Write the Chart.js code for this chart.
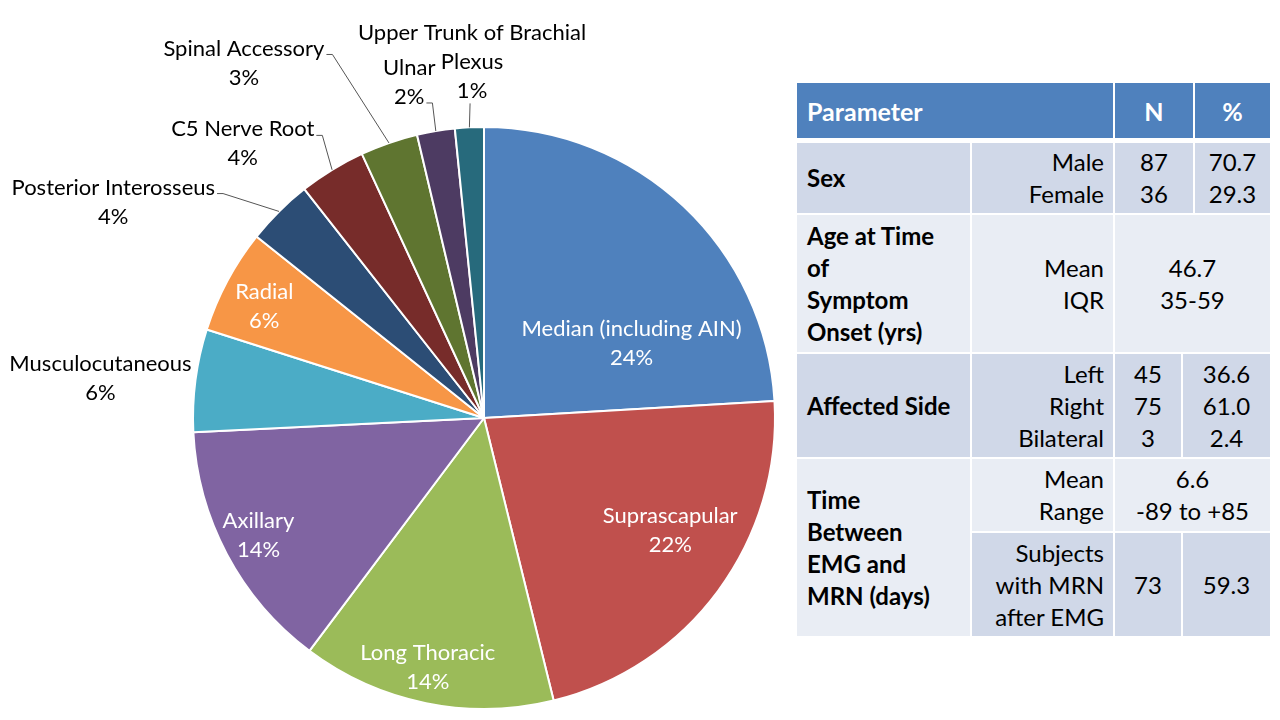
<!DOCTYPE html>
<html>
<head>
<meta charset="utf-8">
<title>Nerves involved</title>
<script src="https://cdn.jsdelivr.net/npm/chart.js@4.4.1/dist/chart.umd.min.js"></script>
<style>
  body { margin: 0; background: #fff; font-family: Lato, "Noto Sans", sans-serif; }
  .chart-container { position: absolute; left: 0; top: 0; width: 790px; height: 720px; }
  .cell { position: absolute; box-sizing: border-box; display: flex; align-items: center; font-size: 24px; line-height: 32px; color: #000; }
  .dark { background: #d0d8e8; }
  .light { background: #e9edf4; }
  .head { background: #4f81bd; color: #fff; font-weight: bold; font-size: 25px; }
  .left { justify-content: flex-start; padding-left: 10px; font-weight: bold; }
  .right { justify-content: flex-end; text-align: right; padding-right: 9px; }
  .mid { justify-content: center; text-align: center; }
</style>
</head>
<body>
<div class="chart-container">
  <canvas id="nerveChart"></canvas>
</div>

<div class="cell head left" style="left:797px;top:83px;width:316px;height:55px">Parameter</div>
<div class="cell head mid" style="left:1115px;top:83px;width:78px;height:55px">N</div>
<div class="cell head mid" style="left:1195px;top:83px;width:75px;height:55px">%</div>

<div class="cell dark left" style="left:797px;top:143px;width:173px;height:70px">Sex</div>
<div class="cell dark right" style="left:972px;top:143px;width:141px;height:70px">Male<br>Female</div>
<div class="cell dark mid" style="left:1115px;top:143px;width:78px;height:70px">87<br>36</div>
<div class="cell dark mid" style="left:1195px;top:143px;width:75px;height:70px">70.7<br>29.3</div>

<div class="cell light left" style="left:797px;top:215px;width:173px;height:137px">Age at Time<br>of<br>Symptom<br>Onset (yrs)</div>
<div class="cell light right" style="left:972px;top:215px;width:141px;height:137px">Mean<br>IQR</div>
<div class="cell light mid" style="left:1115px;top:215px;width:155px;height:137px">46.7<br>35-59</div>

<div class="cell dark left" style="left:797px;top:354px;width:173px;height:103px">Affected Side</div>
<div class="cell dark right" style="left:972px;top:354px;width:141px;height:103px">Left<br>Right<br>Bilateral</div>
<div class="cell dark mid" style="left:1115px;top:354px;width:66px;height:103px">45<br>75<br>3</div>
<div class="cell dark mid" style="left:1183px;top:354px;width:87px;height:103px">36.6<br>61.0<br>2.4</div>

<div class="cell light left" style="left:797px;top:459px;width:173px;height:177px">Time<br>Between<br>EMG and<br>MRN (days)</div>
<div class="cell light right" style="left:972px;top:459px;width:141px;height:72px">Mean<br>Range</div>
<div class="cell light mid" style="left:1115px;top:459px;width:155px;height:72px">6.6<br>-89 to +85</div>
<div class="cell dark right" style="left:972px;top:533px;width:141px;height:103px">Subjects<br>with MRN<br>after EMG</div>
<div class="cell dark mid" style="left:1115px;top:533px;width:66px;height:103px">73</div>
<div class="cell dark mid" style="left:1183px;top:533px;width:87px;height:103px">59.3</div>

<script>
const categories = [
  "Median (including AIN)",
  "Suprascapular",
  "Long Thoracic",
  "Axillary",
  "Musculocutaneous",
  "Radial",
  "Posterior Interosseus",
  "C5 Nerve Root",
  "Spinal Accessory",
  "Ulnar",
  ["Upper Trunk of Brachial", "Plexus"],
];
// share of cases (%)
const shares = [24.1, 22.1, 14.1, 14.0, 5.7, 5.8, 3.7, 3.7, 3.2, 2.1, 1.6];
// percentages as printed on the slide
const shareLabels = ["24%", "22%", "14%", "14%", "6%", "6%", "4%", "4%", "3%", "2%", "1%"];

const sliceColors = [
  "#4f81bd", "#c0504d", "#9bbb59", "#8064a2", "#4bacc6", "#f79646",
  "#2c4d75", "#772c2a", "#5f7530", "#4d3b62", "#276a7c",
];

// label block centres relative to the pie centre, in radii
const labelSpots = [
  { dx: 0.507, dy: -0.257, color: "#fff" },
  { dx: 0.640, dy: 0.387, color: "#fff" },
  { dx: -0.193, dy: 0.856, color: "#fff" },
  { dx: -0.775, dy: 0.404, color: "#fff" },
  { dx: -1.318, dy: -0.135 },
  { dx: -0.755, dy: -0.385, color: "#fff" },
  { dx: -1.274, dy: -0.742, leader: 0 },
  { dx: -0.829, dy: -0.942, leader: 0 },
  { dx: -0.825, dy: -1.220, leader: 0 },
  { dx: -0.257, dy: -1.153, leader: 1 },
  { dx: -0.041, dy: -1.222, leader: "below" },
];

const pieLabels = {
  id: "pieLabels",
  afterDatasetsDraw(chart) {
    const ctx = chart.ctx;
    const arcs = chart.getDatasetMeta(0).data;
    const lineH = 29;
    ctx.save();
    ctx.font = "22px Lato";
    ctx.textAlign = "center";
    ctx.textBaseline = "middle";
    ctx.lineWidth = 1;
    ctx.strokeStyle = "#555";
    arcs.forEach((arc, i) => {
      const spot = labelSpots[i];
      const R = arc.outerRadius;
      const x = arc.x + spot.dx * R;
      const y = arc.y + spot.dy * R;
      const name = chart.data.labels[i];
      const lines = (Array.isArray(name) ? name : [name]).concat(shareLabels[i]);
      const top = y - ((lines.length - 1) * lineH) / 2;
      ctx.fillStyle = spot.color || "#000";
      lines.forEach((t, k) => ctx.fillText(t, x, top + k * lineH));

      if (spot.leader === undefined) return;
      const mid = (arc.startAngle + arc.endAngle) / 2;
      const ex = arc.x + Math.cos(mid) * R;
      const ey = arc.y + Math.sin(mid) * R;
      ctx.beginPath();
      if (spot.leader === "below") {
        ctx.moveTo(x - 2, top + (lines.length - 1) * lineH + 12);
        ctx.lineTo(ex, ey);
      } else {
        const w = ctx.measureText(lines[spot.leader]).width;
        const sx = x + w / 2 + 2;
        const sy = top + spot.leader * lineH + 6;
        ctx.moveTo(sx, sy);
        ctx.lineTo(sx + 6, sy);
        ctx.lineTo(ex, ey);
      }
      ctx.stroke();
    });
    ctx.restore();
  },
};

new Chart(document.getElementById("nerveChart"), {
  type: "pie",
  data: {
    labels: categories,
    datasets: [
      {
        data: shares,
        backgroundColor: sliceColors,
        borderColor: "#fff",
        borderWidth: 2,
      },
    ],
  },
  options: {
    responsive: true,
    maintainAspectRatio: false,
    animation: false,
    layout: { padding: { left: 192, right: 14, top: 126, bottom: 10 } },
    plugins: {
      legend: { display: false },
      tooltip: { enabled: false },
    },
  },
  plugins: [pieLabels],
});
</script>
</body>
</html>
